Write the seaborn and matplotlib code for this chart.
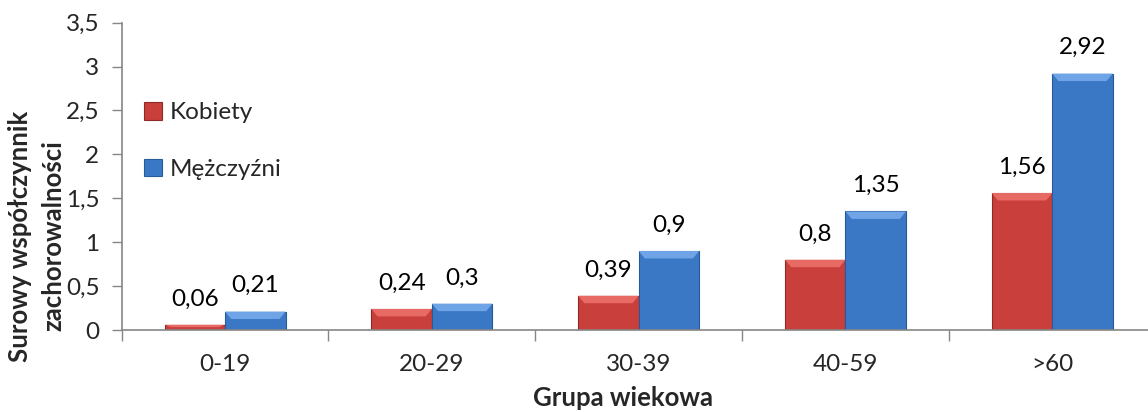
import matplotlib
matplotlib.use("Agg")
import matplotlib.pyplot as plt
import seaborn as sns
import pandas as pd
from matplotlib.patches import Patch, Polygon
from matplotlib.ticker import FixedLocator, FuncFormatter

# Incidence rates by age group
groups = ["0-19", "20-29", "30-39", "40-59", ">60"]
kobiety = [0.06, 0.24, 0.39, 0.80, 1.56]
mezczyzni = [0.21, 0.30, 0.90, 1.35, 2.92]
series = ["Kobiety", "Mężczyźni"]
colors = ["#C93F3B", "#3A78C6"]
edge_colors = ["#8E2A27", "#285A98"]
bevel_colors = ["#E86A64", "#6FA4E6"]


def fmt_pl(v):
    return f"{v:g}".replace(".", ",")


df = pd.DataFrame({
    "Grupa": groups * 2,
    "Płeć": [series[0]] * len(groups) + [series[1]] * len(groups),
    "Wartość": kobiety + mezczyzni,
})

sns.set_style("white")
plt.rcParams["font.family"] = ["Lato", "DejaVu Sans"]
FS = 17.5

fig = plt.figure(figsize=(11.48, 4.12), dpi=100)
ax = fig.add_axes([0.106, 0.199, 0.9007, 0.746])

sns.barplot(data=df, x="Grupa", y="Wartość", hue="Płeć", order=groups,
            hue_order=series, palette=colors, width=0.585, gap=0,
            legend=False, ax=ax, saturation=1)

# bevelled top edge on each bar plus value labels
for cont, ec, bc in zip(ax.containers, edge_colors, bevel_colors):
    for bar in cont:
        bar.set_edgecolor(ec)
        bar.set_linewidth(0.8)
        x0, w, h = bar.get_x(), bar.get_width(), bar.get_height()
        bh = min(0.085, h * 0.45)
        inset = min(0.03, w * 0.12)
        ax.add_patch(Polygon([(x0, h), (x0 + w, h), (x0 + w - inset, h - bh),
                              (x0 + inset, h - bh)], closed=True,
                             facecolor=bc, edgecolor="none", zorder=3))
    ax.bar_label(cont, labels=[fmt_pl(b.get_height()) for b in cont],
                 padding=11, fontsize=FS, color="#000000")

ax.set_xlim(-0.5, len(groups) - 0.5)
ax.set_ylim(0, 3.5)
ax.set_yticks([0, 0.5, 1, 1.5, 2, 2.5, 3, 3.5])
ax.yaxis.set_major_formatter(FuncFormatter(lambda v, p: fmt_pl(v)))
ax.tick_params(axis="y", labelsize=FS, length=7, width=1, color="#868686",
               direction="out", left=True, pad=9)
ax.tick_params(axis="x", labelsize=FS, length=0, pad=17)
ax.xaxis.set_minor_locator(FixedLocator([i + 0.5 for i in range(-1, len(groups))]))
ax.tick_params(axis="x", which="minor", length=8, width=1, color="#868686",
               direction="out", bottom=True)

for side in ["top", "right"]:
    ax.spines[side].set_visible(False)
for side in ["left", "bottom"]:
    ax.spines[side].set_color("#868686")
    ax.spines[side].set_linewidth(1.2)

ax.set_xlabel("")
ax.set_ylabel("")
fig.text(623 / 1148, 2 / 412, "Grupa wiekowa", fontsize=18.5, fontweight="bold",
         ha="center", va="bottom")
fig.text(37 / 1148, 176 / 412, "Surowy współczynnik\nzachorowalności",
         fontsize=18.5, fontweight="bold", rotation=90, ha="center",
         va="center", linespacing=1.45, multialignment="center")

handles = [Patch(facecolor=c, edgecolor=e, linewidth=0.8)
           for c, e in zip(colors, edge_colors)]
fig.legend(handles, series, loc="center left",
           bbox_to_anchor=(144 / 1148, 1 - 141 / 412),
           frameon=False, fontsize=FS, handlelength=0.75, handleheight=0.75,
           handletextpad=0.3, labelspacing=1.45, borderaxespad=0, borderpad=0)

fig.savefig("out.png", dpi=100)
